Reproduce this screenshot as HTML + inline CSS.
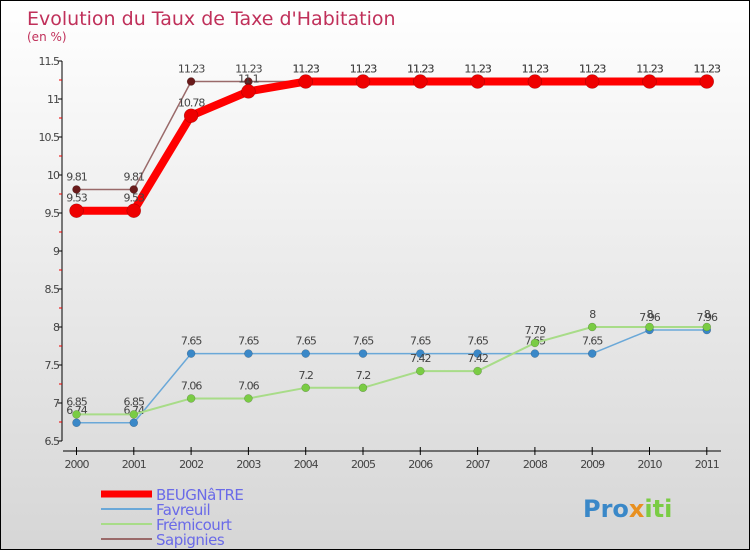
<!DOCTYPE html>
<html><head><meta charset="utf-8"><style>
body{margin:0}
#c{width:750px;height:550px;position:relative;overflow:hidden;box-sizing:border-box;border:1px solid #000;background:linear-gradient(#fff,#d6d6d6);font-family:"DejaVu Sans","Liberation Sans",sans-serif}
</style></head><body>
<div id="c">
<svg id="s" width="750" height="550"></svg>
</div>
<script>
const years=["2000","2001","2002","2003","2004","2005","2006","2007","2008","2009","2010","2011"];
const beugnatre=[9.53,9.53,10.78,11.1,11.23,11.23,11.23,11.23,11.23,11.23,11.23,11.23];
const favreuil=[6.74,6.74,7.65,7.65,7.65,7.65,7.65,7.65,7.65,7.65,7.96,7.96];
const fremicourt=[6.85,6.85,7.06,7.06,7.2,7.2,7.42,7.42,7.79,8,8,8];
const sapignies=[9.81,9.81,11.23,11.23,11.23,11.23,11.23,11.23,11.23,11.23,11.23,11.23];
const yTicks=[6.5,7,7.5,8,8.5,9,9.5,10,10.5,11,11.5];
const NS="http://www.w3.org/2000/svg";
const s=document.getElementById('s');
function X(i){return 75.5+i*57.3;}
function Y(v){return 440-(v-6.5)*76;}
function el(t,a,p){const e=document.createElementNS(NS,t);for(const k in a)e.setAttribute(k,a[k]);(p||s).appendChild(e);return e;}
function txt(x,y,t,a){const e=el('text',Object.assign({x:x,y:y},a));e.textContent=t;return e;}
let e;
e=txt(26,24,"Evolution du Taux de Taxe d'Habitation",{fill:'#c0305a','font-size':19});

e=txt(26,40,"(en %)",{fill:'#c0305a','font-size':12});

// axes
e=el('line',{x1:61,y1:60,x2:61,y2:440,stroke:'#000','stroke-width':1});

e=el('line',{x1:62,y1:450,x2:720,y2:450,stroke:'#000','stroke-width':1});

yTicks.forEach((v,i)=>{
 el('line',{x1:57,x2:61,y1:Y(v),y2:Y(v),stroke:'#000'});
 if(i<yTicks.length-1) el('line',{x1:58,x2:61,y1:Y(v+0.25),y2:Y(v+0.25),stroke:'#e00'});
 e=txt(58,Y(v)+4,String(v),{fill:'#444','font-size':11,'text-anchor':'end','letter-spacing':-1});
 
});
years.forEach((y,i)=>{
 el('line',{x1:X(i),x2:X(i),y1:446,y2:454,stroke:'#000'});
 e=txt(X(i),467,y,{fill:'#444','font-size':11,'text-anchor':'middle','letter-spacing':-1});
 
});
function series(data,color,w,r,dot,name,labOff){
 const g=el('g',{});
 
 el('polyline',{points:data.map((v,i)=>X(i)+','+Y(v)).join(' '),fill:'none',stroke:color,'stroke-width':w,'stroke-linejoin':'round'},g);
 data.forEach((v,i)=>{
  const c=el('circle',{cx:X(i),cy:Y(v),r:r,fill:dot,stroke:'rgba(0,0,0,0.3)','stroke-width':0.5},g);
  
  const t=txt(X(i),Y(v)+labOff,String(v),{fill:'#444','font-size':11,'text-anchor':'middle','letter-spacing':-1},g);
 });
}
series(sapignies,'#9a6a6a',1.5,4,'#6a1a1a','sapignies',-9);
series(favreuil,'#6aa8d8',1.5,4,'#3a88c8','favreuil',-9);
series(fremicourt,'#a8dc88',2,4,'#7acc44','fremicourt',-9);
series(beugnatre,'#f00',8,7,'#e00','beugnatre',-9);
// legend
const leg=[["BEUGNâTRE",'#f00',7],["Favreuil",'#6aa8d8',2],["Frémicourt",'#a8dc88',2],["Sapignies",'#9a6a6a',2]];
leg.forEach((l,i)=>{
 const g=el('g',{});
 
 const y=493+i*15;
 el('line',{x1:100,x2:151,y1:y,y2:y,stroke:l[1],'stroke-width':l[2]},g);
 txt(155,y+6,l[0],{fill:'#6a6ae8','font-size':15,'letter-spacing':-0.5},g);
});
e=txt(582,516,"Pro",{fill:'#3a88c8','font-size':24,'font-weight':'bold'});

const t2=el('tspan',{fill:'#e89020'},e);t2.textContent="x";
const t3=el('tspan',{fill:'#7acc44'},e);t3.textContent="iti";
</script>
</body></html>
